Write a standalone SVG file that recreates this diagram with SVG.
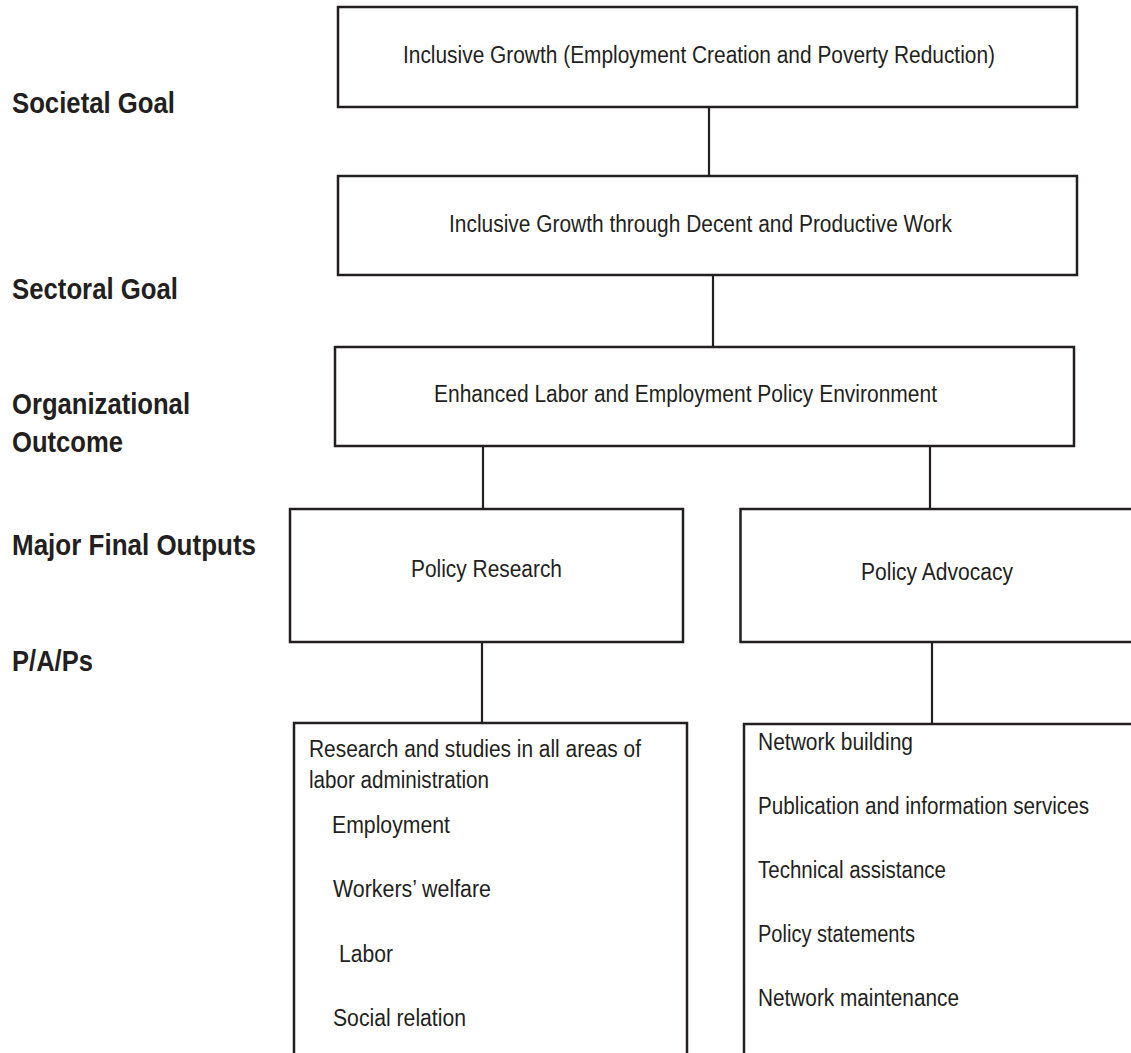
<svg xmlns="http://www.w3.org/2000/svg" width="1131" height="1053" viewBox="0 0 1131 1053">
<style>
.box{fill:#ffffff;stroke:#231f20;stroke-width:2.5}
.open{fill:none;stroke:#231f20;stroke-width:2.5}
.conn{stroke:#231f20;stroke-width:2.2;fill:none}
.t{font-family:"Liberation Sans",Arial,Helvetica,sans-serif;font-size:23.5px;fill:#231f20}
.lbl{font-family:"Liberation Sans",Arial,Helvetica,sans-serif;font-size:29.5px;font-weight:bold;fill:#231f20}
</style>
<rect width="1131" height="1053" fill="#ffffff"/>
<g id="labels">
<text class="lbl" x="12" y="113" textLength="163" lengthAdjust="spacingAndGlyphs">Societal Goal</text>
<text class="lbl" x="12" y="299" textLength="166" lengthAdjust="spacingAndGlyphs">Sectoral Goal</text>
<text class="lbl" x="12" y="414" textLength="178" lengthAdjust="spacingAndGlyphs">Organizational</text>
<text class="lbl" x="12" y="452" textLength="111" lengthAdjust="spacingAndGlyphs">Outcome</text>
<text class="lbl" x="12" y="555" textLength="244" lengthAdjust="spacingAndGlyphs">Major Final Outputs</text>
<text class="lbl" x="12" y="671" textLength="81" lengthAdjust="spacingAndGlyphs">P/A/Ps</text>
</g>
<g id="connectors">
<line class="conn" x1="709" y1="107" x2="709" y2="176"/>
<line class="conn" x1="713" y1="275" x2="713" y2="347"/>
<line class="conn" x1="483" y1="446" x2="483" y2="509"/>
<line class="conn" x1="930" y1="446" x2="930" y2="509"/>
<line class="conn" x1="482" y1="642" x2="482" y2="723"/>
<line class="conn" x1="932" y1="642" x2="932" y2="724"/>
</g>
<g id="societal-goal">
<rect class="box" x="338" y="7" width="739" height="100"/>
<text class="t" x="403" y="63" textLength="592" lengthAdjust="spacingAndGlyphs">Inclusive Growth (Employment Creation and Poverty Reduction)</text>
</g>
<g id="sectoral-goal">
<rect class="box" x="338" y="176" width="739" height="99"/>
<text class="t" x="449" y="232" textLength="503" lengthAdjust="spacingAndGlyphs">Inclusive Growth through Decent and Productive Work</text>
</g>
<g id="organizational-outcome">
<rect class="box" x="335" y="347" width="739" height="99"/>
<text class="t" x="434" y="402" textLength="503" lengthAdjust="spacingAndGlyphs">Enhanced Labor and Employment Policy Environment</text>
</g>
<g id="policy-research">
<rect class="box" x="290" y="509" width="393" height="133"/>
<text class="t" x="411" y="577" textLength="151" lengthAdjust="spacingAndGlyphs">Policy Research</text>
</g>
<g id="policy-advocacy">
<path class="open" d="M1131,509 H740.5 V642 H1131"/>
<text class="t" x="861" y="580" textLength="152" lengthAdjust="spacingAndGlyphs">Policy Advocacy</text>
</g>
<g id="research-paps">
<path class="open" d="M294,1053 V723 H687 V1053"/>
<text class="t" x="309" y="757" textLength="332" lengthAdjust="spacingAndGlyphs">Research and studies in all areas of</text>
<text class="t" x="309" y="788" textLength="180" lengthAdjust="spacingAndGlyphs">labor administration</text>
<text class="t" x="332" y="833" textLength="118" lengthAdjust="spacingAndGlyphs">Employment</text>
<text class="t" x="333" y="897" textLength="158" lengthAdjust="spacingAndGlyphs">Workers’ welfare</text>
<text class="t" x="339" y="962" textLength="54" lengthAdjust="spacingAndGlyphs">Labor</text>
<text class="t" x="333" y="1026" textLength="133" lengthAdjust="spacingAndGlyphs">Social relation</text>
</g>
<g id="advocacy-paps">
<path class="open" d="M744,1053 V724 H1131"/>
<text class="t" x="758" y="750" textLength="155" lengthAdjust="spacingAndGlyphs">Network building</text>
<text class="t" x="758" y="814" textLength="331" lengthAdjust="spacingAndGlyphs">Publication and information services</text>
<text class="t" x="758" y="878" textLength="188" lengthAdjust="spacingAndGlyphs">Technical assistance</text>
<text class="t" x="758" y="942" textLength="157" lengthAdjust="spacingAndGlyphs">Policy statements</text>
<text class="t" x="758" y="1006" textLength="201" lengthAdjust="spacingAndGlyphs">Network maintenance</text>
</g>
</svg>
